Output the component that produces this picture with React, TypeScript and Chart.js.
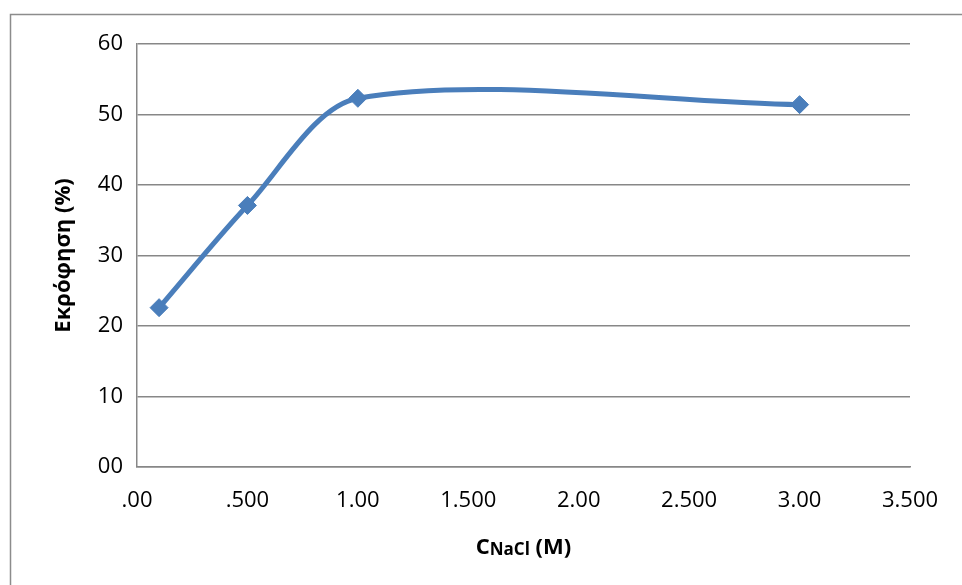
import React, { useEffect, useRef } from 'react';
import { Chart, registerables } from 'chart.js';

Chart.register(...registerables);

// ---- data ----
const concentrations = [0.1, 0.5, 1.0, 3.0];
const desorption = [22.6, 37.1, 52.3, 51.4];

const xTickValues = [0, 0.5, 1, 1.5, 2, 2.5, 3, 3.5];
const xTickLabels = ['.00', '.500', '1.00', '1.500', '2.00', '2.500', '3.00', '3.500'];
const yTickValues = [0, 10, 20, 30, 40, 50, 60];
const yTickLabels = ['00', '10', '20', '30', '40', '50', '60'];

const yTitle = 'Εκρόφηση (%)';
const xTitleParts = [
  { text: 'C', sub: false },
  { text: 'NaCl', sub: true },
  { text: ' (M)', sub: false },
];

const FONT = "'Open Sans', 'Noto Sans', sans-serif";
const LINE_COLOR = '#4a7ebb';
const GRID_COLOR = '#878787';

const framePlugin = {
  id: 'frame',
  beforeDraw(chart: any) {
    const ctx = chart.ctx;
    ctx.save();
    ctx.fillStyle = '#ffffff';
    ctx.fillRect(0, 0, chart.width, chart.height);
    ctx.strokeStyle = '#8c8c8c';
    ctx.lineWidth = 1.5;
    ctx.strokeRect(10.5, 14.5, chart.width + 20, chart.height + 20);
    ctx.restore();
  },
};

function partWidths(ctx: CanvasRenderingContext2D, bigFont: string, smallFont: string) {
  return xTitleParts.map((p) => {
    ctx.font = p.sub ? smallFont : bigFont;
    return ctx.measureText(p.text).width;
  });
}

const xTitlePlugin = {
  id: 'xTitle',
  afterDraw(chart: any) {
    const ctx = chart.ctx;
    const area = chart.chartArea;
    const bigFont = `bold 22px ${FONT}`;
    const smallFont = `bold 17px ${FONT}`;
    ctx.save();
    ctx.fillStyle = '#000000';
    ctx.textBaseline = 'alphabetic';
    ctx.textAlign = 'left';
    const widths = partWidths(ctx, bigFont, smallFont);
    const total = widths.reduce((a, b) => a + b, 0);
    let x = (area.left + area.right) / 2 - total / 2;
    const baseline = 554;
    xTitleParts.forEach((p, i) => {
      ctx.font = p.sub ? smallFont : bigFont;
      ctx.fillText(p.text, x, baseline + (p.sub ? 1 : 0));
      x += widths[i];
    });
    ctx.restore();
  },
};

export default function App() {
  const canvasRef = useRef<HTMLCanvasElement | null>(null);

  useEffect(() => {
    if (!canvasRef.current) return;
    const chart = new Chart(canvasRef.current, {
      type: 'line',
      data: {
        datasets: [
          {
            label: yTitle,
            data: concentrations.map((c, i) => ({ x: c, y: desorption[i] })),
            borderColor: LINE_COLOR,
            backgroundColor: LINE_COLOR,
            borderWidth: 5,
            tension: 0.3,
            pointStyle: 'rectRot',
            pointRadius: 9,
            pointHoverRadius: 9,
            pointBorderWidth: 1,
            pointBackgroundColor: LINE_COLOR,
            pointBorderColor: LINE_COLOR,
            fill: false,
          },
        ],
      },
      options: {
        responsive: false,
        animation: false,
        devicePixelRatio: 1,
        layout: { padding: { left: 0, top: 44, right: 52, bottom: 0 } },
        plugins: {
          legend: { display: false },
          tooltip: { enabled: false },
        },
        scales: {
          x: {
            type: 'linear',
            min: 0,
            max: 3.5,
            afterBuildTicks: (scale: any) => {
              scale.ticks = xTickValues.map((v) => ({ value: v }));
            },
            afterFit: (scale: any) => {
              scale.height = 585 - 467;
            },
            grid: { display: false, drawTicks: false },
            border: { display: true, color: GRID_COLOR, width: 1.5 },
            ticks: {
              padding: 21,
              color: '#000000',
              font: { family: FONT, size: 22 },
              maxRotation: 0,
              autoSkip: false,
              callback: (v: any) => {
                const i = xTickValues.findIndex((t) => Math.abs(t - Number(v)) < 1e-9);
                return i >= 0 ? xTickLabels[i] : '';
              },
            },
          },
          y: {
            type: 'linear',
            min: 0,
            max: 60,
            afterBuildTicks: (scale: any) => {
              scale.ticks = yTickValues.map((v) => ({ value: v }));
            },
            afterFit: (scale: any) => {
              scale.width = 137;
            },
            grid: { display: true, color: GRID_COLOR, lineWidth: 1.5, drawTicks: false },
            border: { display: true, color: GRID_COLOR, width: 1.5 },
            ticks: {
              padding: 14,
              color: '#000000',
              font: { family: FONT, size: 22 },
              callback: (v: any) => {
                const i = yTickValues.findIndex((t) => Math.abs(t - Number(v)) < 1e-9);
                return i >= 0 ? yTickLabels[i] : '';
              },
            },
            title: {
              display: true,
              text: yTitle,
              color: '#000000',
              font: { family: FONT, size: 22, weight: 'bold' },
              padding: { top: 51, bottom: 0 },
            },
          },
        },
      },
      plugins: [framePlugin, xTitlePlugin],
    } as any);
    return () => chart.destroy();
  }, []);

  return (
    <div style={{ position: 'absolute', left: 0, top: 0, width: 962, height: 585 }}>
      <canvas ref={canvasRef} width={962} height={585} />
    </div>
  );
}
